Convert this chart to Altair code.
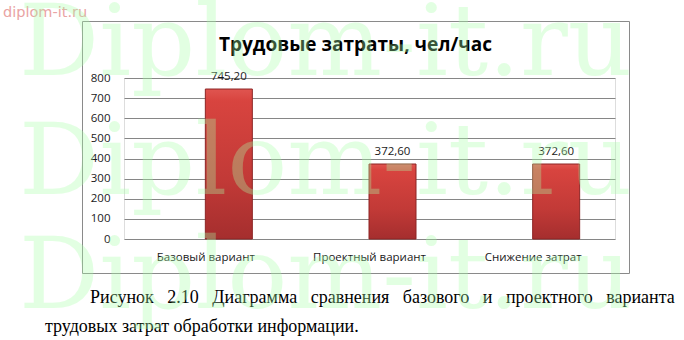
import altair as alt
import pandas as pd

categories = ["Базовый вариант", "Проектный вариант", "Снижение затрат"]
values = [745.20, 372.60, 372.60]
y_ticks = [0, 100, 200, 300, 400, 500, 600, 700, 800]
title_text = "Трудовые затраты, чел/час"
caption_words_1 = ["Рисунок", "2.10", "Диаграмма", "сравнения", "базового", "и",
                   "проектного", "варианта"]
caption_line_2 = "трудовых затрат обработки информации."
watermark_big = "Diplom-it.ru"
watermark_small = "diplom-it.ru"

df = pd.DataFrame({"cat": categories, "val": values})

W, H = 491, 161
FONT = "Open Sans"

x_enc = alt.X("cat:N", sort=categories, title=None,
              scale=alt.Scale(paddingInner=0, paddingOuter=0),
              axis=alt.Axis(labelAngle=0, labelPadding=12, labelFont=FONT,
                            labelFontSize=11.5, labelColor="#1a1a1a",
                            domain=False, ticks=False, grid=False))
y_enc = alt.Y("val:Q", title=None,
              scale=alt.Scale(domain=[0, 800], nice=False),
              axis=alt.Axis(values=y_ticks, labelPadding=14, labelFont=FONT,
                            labelFontSize=11.5, labelColor="#1a1a1a",
                            labelOverlap=False, labelBaseline="middle",
                            domain=False, ticks=False, grid=True,
                            gridColor="#868686", gridWidth=1, gridOpacity=1))

base = alt.Chart(df)

grad = alt.Gradient(
    gradient="linear",
    stops=[alt.GradientStop(color="#e05550", offset=0),
           alt.GradientStop(color="#d8443f", offset=0.08),
           alt.GradientStop(color="#c23a37", offset=0.6),
           alt.GradientStop(color="#a52e2e", offset=1)],
    x1=0, x2=0, y1=0, y2=1)

bars = base.mark_bar(size=47, xOffset=23, color=grad, stroke="#8c2525",
                     strokeWidth=1).encode(x=x_enc, y=y_enc)

labels = base.transform_calculate(
    lbl="replace(format(datum.val, '.2f'), '.', ',')"
).mark_text(xOffset=23, dy=-7, baseline="bottom", font=FONT, fontSize=11.5,
            color="#1a1a1a").encode(x=x_enc, y=y_enc, text="lbl:N")

one = pd.DataFrame({"k": [0]})

frame = alt.Chart(one).mark_rect(fill=None, stroke="#8a8a8a", strokeWidth=1).encode(
    x=alt.value(-41.5), x2=alt.value(505.5), y=alt.value(-56.5), y2=alt.value(195.5))

title = alt.Chart(pd.DataFrame({"t": [title_text]})).mark_text(
    font=FONT, fontSize=19, fontWeight="bold", color="#000000",
    align="center", baseline="middle").encode(
    x=alt.value(231.5), y=alt.value(-33), text="t:N")

NB = "\u00a0"
line1 = (NB * 3).join(caption_words_1)
cap_layers = []
cap_pos = [(-34, 225), (-79, 254)]
for line, (cx, cy) in zip([line1, caption_line_2], cap_pos):
    cap_layers.append(alt.Chart(pd.DataFrame({"t": [line]})).mark_text(
        font="Liberation Serif", fontSize=18, color="#000000", align="left",
        baseline="alphabetic").encode(x=alt.value(cx), y=alt.value(cy), text="t:N"))

small_wm = alt.Chart(pd.DataFrame({"t": [watermark_small]})).mark_text(
    font="DejaVu Sans", fontSize=14.5, color="#e9a3a3", align="left",
    baseline="alphabetic").encode(x=alt.value(-121), y=alt.value(-61), text="t:N")

wm_layers = []
for wy in [-3, 116, 230]:
    wm_layers.append(alt.Chart(pd.DataFrame({"t": [watermark_big]})).mark_text(
        font="DejaVu Serif", fontSize=100, color="#aaffaa", opacity=0.33,
        align="left", baseline="alphabetic").encode(
        x=alt.value(-105), y=alt.value(wy), text="t:N"))

chart = alt.layer(frame, bars, labels, title, *cap_layers, small_wm, *wm_layers).properties(
    width=W, height=H,
    autosize=alt.AutoSizeParams(type="none"),
    padding={"left": 124, "top": 78, "right": 69, "bottom": 101},
).configure_view(stroke=None).configure(background="white")

chart.save("out.html", embed_options={"renderer": "svg", "actions": False})
